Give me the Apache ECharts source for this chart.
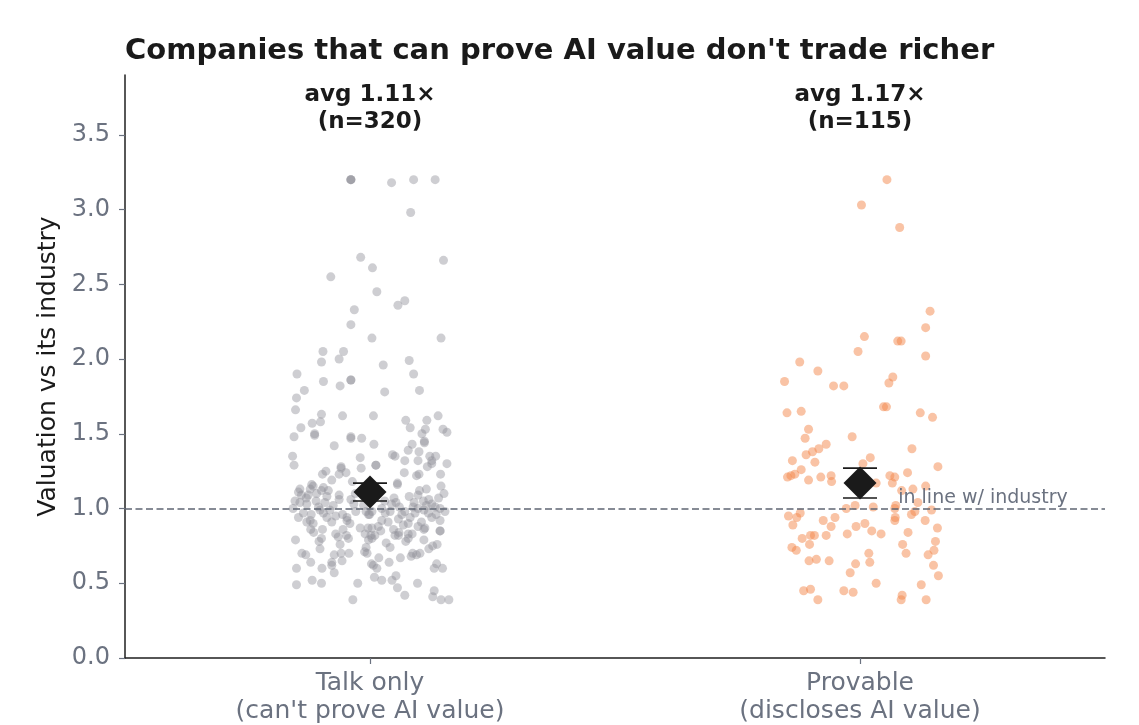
<!DOCTYPE html>
<html>
<head>
<meta charset="utf-8">
<script src="https://cdn.jsdelivr.net/npm/echarts@6/dist/echarts.min.js"></script>
<style>
  html,body{margin:0;padding:0;background:#fff;}
  #chart{width:1139px;height:725px;}
</style>
</head>
<body>
<div id="chart"></div>
<script>
// groups
const categories=['Talk only\n(can\'t prove AI value)','Provable\n(discloses AI value)'];
const counts=[320,115];
const meanValues=[1.11,1.17];
const ciLow=[1.05,1.07];
const ciHigh=[1.17,1.27];
const yTicks=[0,0.5,1,1.5,2,2.5,3,3.5];
const refLine=1.0;

// [jitter, value]
const talkPoints=[
  [-0.039,3.20],[-0.039,3.20],[-0.039,3.20],[0.044,3.18],[0.089,3.20],[0.133,3.20],[0.083,2.98],[-0.019,2.68],[0.150,2.66],[0.005,2.61],
  [-0.080,2.55],[0.014,2.45],[0.071,2.39],[0.057,2.36],[-0.032,2.33],[-0.039,2.23],[0.004,2.14],[0.145,2.14],[-0.096,2.05],[-0.054,2.05],
  [-0.099,1.98],[-0.063,2.00],[0.027,1.96],[0.080,1.99],[-0.149,1.90],[0.089,1.90],[-0.095,1.85],[-0.039,1.86],[-0.039,1.86],[-0.061,1.82],
  [-0.134,1.79],[0.030,1.78],[0.101,1.79],[-0.150,1.74],[-0.152,1.66],[-0.099,1.63],[-0.056,1.62],[0.007,1.62],[0.139,1.62],[0.073,1.59],
  [0.116,1.59],[-0.118,1.57],[-0.101,1.58],[0.082,1.54],[-0.141,1.54],[0.113,1.53],[0.149,1.53],[0.157,1.51],[-0.113,1.50],[-0.113,1.49],
  [0.106,1.50],[-0.155,1.48],[-0.039,1.48],[-0.039,1.47],[-0.017,1.47],[0.111,1.44],[0.111,1.45],[-0.073,1.42],[0.008,1.43],[0.086,1.43],
  [0.078,1.39],[0.100,1.38],[-0.158,1.35],[0.051,1.35],[0.046,1.36],[-0.020,1.34],[0.071,1.32],[0.122,1.35],[0.126,1.32],[0.134,1.35],
  [0.098,1.32],[0.157,1.30],[-0.155,1.29],[-0.059,1.28],[0.012,1.29],[0.012,1.29],[0.126,1.30],[0.117,1.28],
  [-0.018,1.27],[-0.059,1.27],[-0.049,1.24],[-0.063,1.23],[-0.090,1.25],[-0.097,1.23],[-0.078,1.19],[-0.036,1.18],[-0.119,1.16],[-0.122,1.13],
  [-0.116,1.15],[-0.143,1.13],[-0.146,1.11],[-0.095,1.14],[-0.099,1.12],[-0.109,1.10],[-0.126,1.09],[-0.088,1.08],[-0.092,1.04],[-0.063,1.09],
  [-0.063,1.06],[-0.153,1.05],[-0.143,1.04],[-0.129,1.03],[-0.039,1.06],[-0.033,1.03],[-0.013,1.02],[-0.157,1.00],[-0.105,1.01],[-0.102,0.99],
  [-0.082,0.99],[-0.136,0.97],[-0.146,0.94],[-0.095,0.97],[-0.088,0.94],[-0.056,0.96],[-0.047,0.94],[-0.029,0.98],[-0.008,0.98],[-0.001,0.96],
  [-0.122,0.92],[-0.116,0.90],[-0.129,0.91],[-0.078,0.91],[-0.041,0.90],[-0.047,0.92],[-0.020,0.87],[-0.004,0.87],[-0.097,0.86],[-0.055,0.86],
  [-0.065,0.81],[-0.048,0.82],[-0.130,1.07],[-0.110,1.05],[-0.075,1.02],[-0.120,0.96],[-0.070,0.95],[-0.140,1.09],[-0.085,1.12],[-0.030,1.10],
  [0.070,1.24],[0.100,1.23],[0.095,1.22],[0.144,1.23],[0.056,1.17],[0.056,1.16],[0.115,1.13],[0.101,1.12],[0.098,1.09],[0.145,1.15],
  [0.151,1.10],[0.049,1.07],[0.053,1.04],[0.044,1.03],[0.109,1.05],[0.115,1.02],[0.126,1.03],[0.133,1.01],[0.088,1.01],[0.098,1.00],
  [0.143,1.00],[0.153,0.98],[0.024,1.00],[0.031,0.97],[0.041,0.98],[0.004,0.98],[-0.003,0.96],[0.071,0.98],[0.082,0.94],[0.092,0.97],
  [0.119,0.97],[0.126,0.94],[0.143,0.92],[0.024,0.92],[0.037,0.91],[0.058,0.93],[0.068,0.89],[0.078,0.90],[0.105,0.91],[0.098,0.88],
  [0.017,0.88],[0.004,0.87],[0.048,0.86],[0.143,0.85],[0.112,0.87],[-0.010,0.83],[0.010,0.82],[0.058,0.82],[0.078,0.83],[0.120,1.06],
  [0.135,0.96],[0.060,1.01],[0.090,1.04],[0.030,1.05],[0.110,0.99],[0.065,0.96],[0.140,1.07],[0.080,1.08],
  [-0.150,0.60],[-0.150,0.49],[-0.118,0.52],[-0.099,0.50],[-0.025,0.50],[-0.035,0.39],[0.056,0.47],[0.071,0.42],[0.097,0.50],[0.131,0.45],
  [0.128,0.41],[0.145,0.39],[0.161,0.39],[0.009,0.54],[0.024,0.52],[0.045,0.52],[0.053,0.55],[0.039,0.64],[0.062,0.67],[-0.098,0.60],
  [-0.073,0.57],[-0.121,0.64],[-0.078,0.64],[-0.078,0.62],[-0.057,0.65],[-0.043,0.70],[-0.139,0.70],[-0.131,0.69],[-0.059,0.70],[-0.073,0.69],
  [-0.102,0.73],[-0.152,0.79],[-0.104,0.78],[-0.099,0.80],[-0.061,0.76],[-0.044,0.80],[-0.070,0.83],[-0.121,0.86],[-0.115,0.84],[-0.011,0.71],
  [-0.006,0.70],[0.003,0.63],[0.007,0.62],[0.014,0.60],[0.018,0.67],[0.041,0.74],[0.033,0.77],[-0.003,0.79],[0.004,0.80],[-0.008,0.74],
  [0.002,0.82],[0.022,0.85],[0.051,0.82],[0.059,0.84],[0.073,0.78],[0.078,0.80],[0.086,0.83],[0.084,0.68],[0.087,0.70],[0.095,0.69],
  [0.102,0.70],[0.120,0.73],[0.128,0.75],[0.137,0.76],[0.110,0.79],[0.131,0.60],[0.136,0.63],[0.148,0.60],[0.143,0.85],[0.110,0.86]
];
const provPoints=[
  [0.055,3.20],[0.003,3.03],[0.081,2.88],[0.143,2.32],[0.134,2.21],[0.009,2.15],[0.077,2.12],[0.084,2.12],[-0.004,2.05],[0.134,2.02],
  [-0.123,1.98],[-0.086,1.92],[-0.154,1.85],[0.067,1.88],[0.059,1.84],[-0.054,1.82],[-0.033,1.82],[0.048,1.68],[0.054,1.68],[-0.149,1.64],
  [-0.120,1.65],[0.123,1.64],[0.148,1.61],[-0.105,1.53],[-0.112,1.47],[-0.016,1.48],[-0.069,1.43],[-0.084,1.40],[-0.097,1.38],[-0.110,1.36],
  [0.106,1.40],[-0.092,1.31],[-0.138,1.32],[0.021,1.34],[0.006,1.30],[-0.120,1.26],[0.159,1.28],[0.097,1.24],[-0.148,1.21],[-0.141,1.22],
  [-0.133,1.23],[-0.105,1.19],[-0.080,1.21],[-0.059,1.22],[-0.058,1.18],[0.061,1.22],[0.071,1.21],[0.066,1.17],[0.033,1.17],[0.085,1.12],
  [0.108,1.13],[0.134,1.15],[0.118,1.04],[0.073,1.02],[0.071,1.00],[0.146,0.99],[0.105,0.96],[0.112,0.98],[-0.028,1.00],[-0.010,1.02],
  [0.027,1.01],[-0.146,0.95],[-0.129,0.94],[-0.122,0.97],[-0.137,0.89],[-0.051,0.94],[-0.075,0.92],[-0.059,0.88],[0.010,0.90],[-0.008,0.88],
  [0.071,0.92],[0.072,0.94],[0.133,0.92],[0.158,0.87],[0.024,0.85],[0.043,0.83],[-0.026,0.83],[0.098,0.84],[-0.118,0.80],[-0.101,0.82],
  [-0.093,0.82],[-0.069,0.82],[-0.103,0.76],[-0.139,0.74],[-0.130,0.72],[0.087,0.76],[0.154,0.78],[0.094,0.70],[0.151,0.72],[0.139,0.69],
  [0.018,0.70],[0.020,0.64],[-0.104,0.65],[-0.089,0.66],[-0.063,0.65],[-0.009,0.63],[0.150,0.62],[-0.020,0.57],[0.160,0.55],[0.033,0.50],
  [0.125,0.49],[-0.115,0.45],[-0.101,0.46],[-0.033,0.45],[-0.014,0.44],[-0.086,0.39],[0.086,0.42],[0.084,0.39],[0.135,0.39]
];

const FONT='DejaVu Sans';
const INK='#1a1a1a';
const GREY='#6b7280';

let myChart=echarts.init(document.getElementById('chart'));

let talkData=talkPoints.map(p=>[0+p[0],p[1]]);
let provData=provPoints.map(p=>[1+p[0],p[1]]);
let meanData=meanValues.map((v,i)=>[i,v]);
let ciData=ciLow.map((v,i)=>[i,v,ciHigh[i]]);
let noteData=counts.map((n,i)=>({value:[i,3.675],name:'avg '+meanValues[i].toFixed(2)+'×\n(n='+n+')'}));

let option={
    backgroundColor:'#fff',
    animation:false,
    title:{
        text:'Companies that can prove AI value don\'t trade richer',
        left:120,
        top:32,
        textStyle:{fontFamily:FONT,fontSize:29,fontWeight:'bold',color:INK},
    },
    grid:{left:125,right:34,top:75,bottom:65},
    xAxis:{
        type:'value',
        min:-0.5,
        max:1.5,
        splitLine:{show:false},
        axisLine:{lineStyle:{color:'#1f1f1f',width:1.5}},
        axisTick:{show:true,customValues:[0,1],length:6,lineStyle:{color:GREY,width:1.2}},
        axisLabel:{
            customValues:[0,1],
            formatter:function(v){return categories[Math.round(v)]||'';},
            fontFamily:FONT,fontSize:25,color:GREY,lineHeight:28,margin:11,
        },
    },
    yAxis:{
        type:'value',
        min:0,
        max:3.9,
        name:'Valuation vs its industry',
        nameLocation:'middle',
        nameGap:62,
        nameTextStyle:{fontFamily:FONT,fontSize:25,color:INK},
        splitLine:{show:false},
        axisLine:{show:true,onZero:false,lineStyle:{color:'#1f1f1f',width:1.5}},
        axisTick:{show:true,customValues:yTicks,length:6,lineStyle:{color:GREY,width:1.2}},
        axisLabel:{
            customValues:yTicks,
            formatter:function(v){return v.toFixed(1);},
            fontFamily:FONT,fontSize:24,color:GREY,margin:15,
        },
    },
    series:[
        {
            name:'Talk only',
            type:'scatter',
            data:talkData,
            symbolSize:9,
            itemStyle:{color:'#8e8e96',opacity:0.43},
            z:2,
        },
        {
            name:'Provable',
            type:'scatter',
            data:provData,
            symbolSize:9,
            itemStyle:{color:'#f4874b',opacity:0.5},
            z:2,
        },
        {
            name:'ref',
            type:'scatter',
            data:[[1.078,1.07]],
            symbolSize:0,
            itemStyle:{opacity:1},
            label:{
                show:true,position:'right',distance:0,
                formatter:'in line w/ industry',
                fontFamily:FONT,fontSize:19,color:GREY,
            },
            markLine:{
                silent:true,
                symbol:'none',
                label:{show:false},
                lineStyle:{color:'#5f6673',type:[7,3.5],width:1.5},
                data:[{yAxis:refLine}],
            },
            z:3,
        },
        {
            name:'ci',
            type:'custom',
            data:ciData,
            renderItem:function(params,api){
                let lo=api.coord([api.value(0),api.value(1)]);
                let hi=api.coord([api.value(0),api.value(2)]);
                let w=17;
                let style={stroke:INK,lineWidth:1.6};
                return {
                    type:'group',
                    children:[
                        {type:'line',shape:{x1:lo[0],y1:lo[1],x2:hi[0],y2:hi[1]},style:style},
                        {type:'line',shape:{x1:lo[0]-w,y1:lo[1],x2:lo[0]+w,y2:lo[1]},style:style},
                        {type:'line',shape:{x1:hi[0]-w,y1:hi[1],x2:hi[0]+w,y2:hi[1]},style:style},
                    ],
                };
            },
            z:4,
        },
        {
            name:'mean',
            type:'scatter',
            data:meanData,
            symbol:'diamond',
            symbolSize:[33,33],
            itemStyle:{color:INK,opacity:1},
            z:5,
        },
        {
            name:'notes',
            type:'scatter',
            data:noteData,
            symbolSize:0,
            itemStyle:{opacity:1},
            label:{
                show:true,position:'inside',
                formatter:function(p){return p.name;},
                fontFamily:FONT,fontSize:23,fontWeight:'bold',color:INK,opacity:1,lineHeight:27,align:'center',
            },
            z:6,
        },
    ],
};

myChart.setOption(option);
</script>
</body>
</html>
